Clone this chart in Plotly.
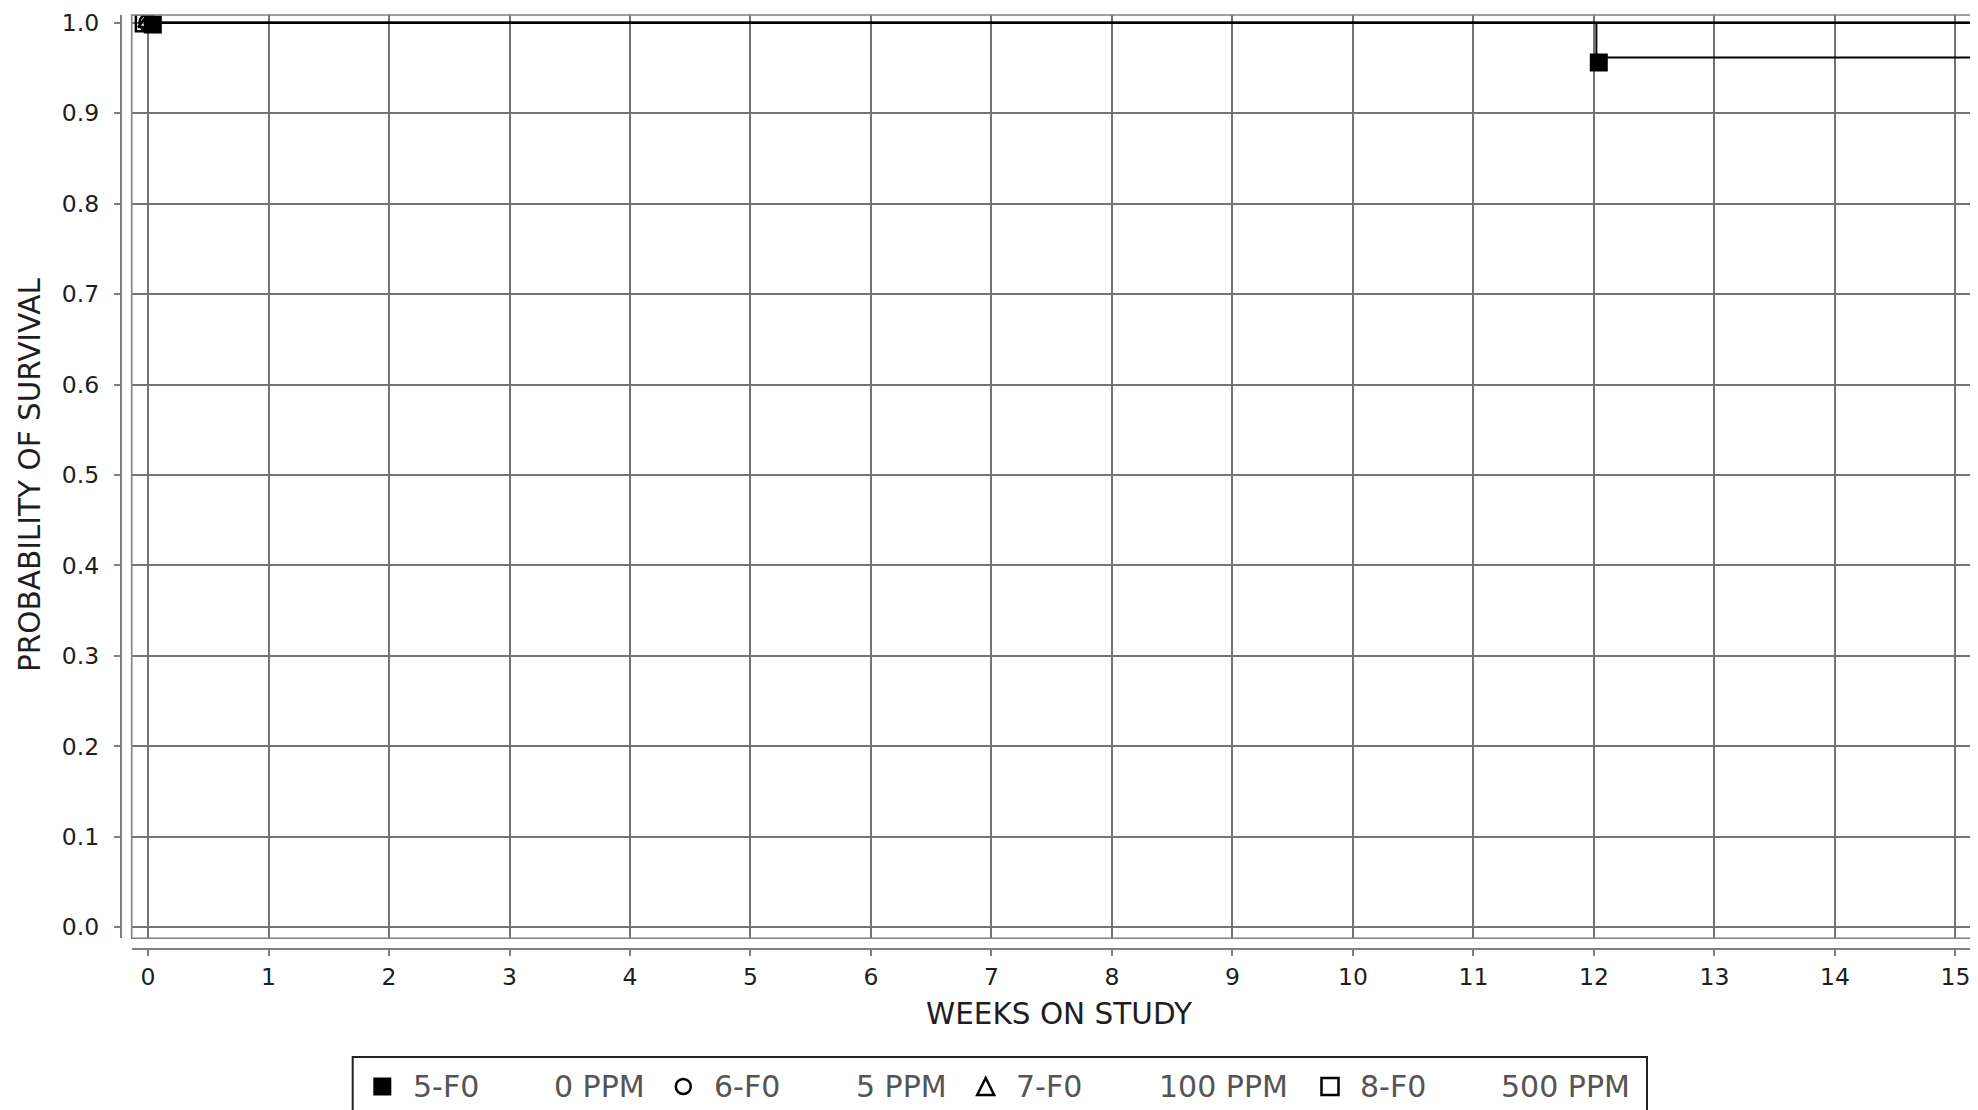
import plotly.graph_objects as go

W, H = 1978, 1110
OFF = 8  # default page margin of the html body

# ---------------- data ----------------
groups = ["5-F0", "6-F0", "7-F0", "8-F0"]
doses = ["0 PPM", "5 PPM", "100 PPM", "500 PPM"]
symbols = ["square", "circle-open", "triangle-up-open", "square-open"]

# Kaplan-Meier step curves (weeks on study, probability of survival)
weeks_5F0 = [0, 12.02, 15.3]
surv_5F0 = [1.0, 0.9615, 0.9615]
weeks_6F0 = [0, 15.3]
surv_6F0 = [1.0, 1.0]
weeks_7F0 = [0, 15.3]
surv_7F0 = [1.0, 1.0]
weeks_8F0 = [0, 15.3]
surv_8F0 = [1.0, 1.0]

# event markers
mark_weeks_5F0 = [0.04, 12.04]
mark_surv_5F0 = [0.998, 0.956]
mark_weeks_6F0 = [0]
mark_surv_6F0 = [1.0]
mark_weeks_7F0 = [0]
mark_surv_7F0 = [1.0]
mark_weeks_8F0 = [-0.03]
mark_surv_8F0 = [1.0]

x_ticks = list(range(0, 16))
x_tick_labels = [str(v) for v in x_ticks]
y_ticks = [0.0, 0.1, 0.2, 0.3, 0.4, 0.5, 0.6, 0.7, 0.8, 0.9, 1.0]
y_tick_labels = ["0.0", "0.1", "0.2", "0.3", "0.4", "0.5", "0.6", "0.7", "0.8", "0.9", "1.0"]

x_title = "WEEKS ON STUDY"
y_title = "PROBABILITY OF SURVIVAL"

curves = {
    "5-F0": (weeks_5F0, surv_5F0, mark_weeks_5F0, mark_surv_5F0),
    "6-F0": (weeks_6F0, surv_6F0, mark_weeks_6F0, mark_surv_6F0),
    "7-F0": (weeks_7F0, surv_7F0, mark_weeks_7F0, mark_surv_7F0),
    "8-F0": (weeks_8F0, surv_8F0, mark_weeks_8F0, mark_surv_8F0),
}

# ---------------- layout helpers ----------------
FW, FH = W - OFF, H - OFF


def px(x):
    return (x - OFF) / FW


def py(y):
    return 1 - (y - OFF) / FH


PLOT_L, PLOT_T, PLOT_B = 131.7, 15.0, 938.3
XAXIS_Y = 948.3
YAXIS_X = 121.7
X_RANGE = [-0.1353, 15.187]
Y_RANGE = [-0.0122, 1.0085]

FONT = "DejaVu Sans"
GRID = "#747474"
AXC = "#808080"

fig = go.Figure()

order = [3, 2, 1, 0]
for i in order:
    g = groups[i]
    wx, sy, mx, my = curves[g]
    fig.add_trace(go.Scatter(
        x=wx, y=sy, mode="lines", line=dict(color="black", width=2, shape="hv"),
        name=g + "      " + doses[i], showlegend=False, hoverinfo="skip",
        xaxis="x", yaxis="y"))
for i in order:
    g = groups[i]
    wx, sy, mx, my = curves[g]
    fig.add_trace(go.Scatter(
        x=mx, y=my, mode="markers",
        marker=dict(symbol=symbols[i], size=18 if i == 0 else 17, color="black",
                    line=dict(color="black", width=2.5 if i else 0)),
        name=g + "      " + doses[i], showlegend=False, hoverinfo="skip",
        xaxis="x", yaxis="y"))

# empty traces to materialise the offset axis subplots
fig.add_trace(go.Scatter(x=[None], y=[None], xaxis="x2", yaxis="y2", showlegend=False, hoverinfo="skip"))
fig.add_trace(go.Scatter(x=[None], y=[None], xaxis="x3", yaxis="y3", showlegend=False, hoverinfo="skip"))

tickfont = dict(family=FONT, size=23.5, color="#1e1e1e")

fig.update_layout(
    width=FW, height=FH, template="none",
    margin=dict(l=0, r=0, t=0, b=0),
    paper_bgcolor="white", plot_bgcolor="rgba(0,0,0,0)",
    showlegend=False,
    xaxis=dict(domain=[px(PLOT_L), 1], range=X_RANGE, anchor="y",
               tickvals=x_ticks, showticklabels=False, ticks="",
               showgrid=True, gridcolor=GRID, gridwidth=1.6,
               showline=False, zeroline=False, automargin=False),
    yaxis=dict(domain=[py(PLOT_B), py(PLOT_T)], range=Y_RANGE, anchor="x",
               tickvals=y_ticks, showticklabels=False, ticks="",
               showgrid=True, gridcolor=GRID, gridwidth=1.6,
               showline=False, zeroline=False, automargin=False),
    xaxis2=dict(domain=[px(PLOT_L), 1], range=X_RANGE, anchor="y2",
                tickvals=x_ticks, ticktext=x_tick_labels, tickfont=tickfont,
                ticks="outside", ticklen=6, tickwidth=1.5, tickcolor=AXC,
                ticklabelstandoff=1,
                showline=True, linecolor=AXC, linewidth=1.6,
                showgrid=False, zeroline=False, automargin=False),
    yaxis2=dict(domain=[py(XAXIS_Y), py(PLOT_T)], range=[0, 1], anchor="x2",
                visible=False, showgrid=False, zeroline=False),
    xaxis3=dict(domain=[px(YAXIS_X), 1], range=[0, 1], anchor="y3",
                visible=False, showgrid=False, zeroline=False),
    yaxis3=dict(domain=[py(PLOT_B), py(PLOT_T)], range=Y_RANGE, anchor="x3",
                tickvals=y_ticks, ticktext=y_tick_labels, tickfont=tickfont,
                ticks="outside", ticklen=6, tickwidth=1.5, tickcolor=AXC,
                ticklabelstandoff=10,
                showline=True, linecolor=AXC, linewidth=1.6,
                showgrid=False, zeroline=False, automargin=False),
)

shapes = []
# plot border
shapes.append(dict(type="rect", xref="paper", yref="paper",
                   x0=px(PLOT_L), x1=1.01, y0=py(PLOT_B), y1=py(PLOT_T),
                   line=dict(color=AXC, width=1.6), layer="above"))
# blue dashed zero lines
shapes.append(dict(type="line", xref="x", yref="paper", x0=0, x1=0,
                   y0=py(PLOT_B), y1=py(PLOT_T),
                   line=dict(color="#3535d0", width=1.5, dash="4px,3px"), layer="between"))
shapes.append(dict(type="line", xref="paper", yref="y", x0=px(PLOT_L), x1=1, y0=0, y1=0,
                   line=dict(color="#3535d0", width=1.5, dash="4px,3px"), layer="between"))

# legend box
LEG_L, LEG_R, LEG_T, LEG_B = 352.7, 1647.0, 1057.0, 1125.0
shapes.append(dict(type="rect", xref="paper", yref="paper",
                   x0=px(LEG_L), x1=px(LEG_R), y0=py(LEG_B), y1=py(LEG_T),
                   line=dict(color="#222222", width=2), fillcolor="white", layer="above"))

sym_x = [382.3, 683.3, 985.7, 1330.0]
name_x = [411.7, 713.3, 1015.0, 1358.5]
dose_x = [553.3, 855.0, 1158.3, 1500.0]
LEG_CY = 1086.5
s = 9
# filled square
shapes.append(dict(type="rect", xref="paper", yref="paper",
                   x0=px(sym_x[0] - s), x1=px(sym_x[0] + s), y0=py(LEG_CY + s), y1=py(LEG_CY - s),
                   line=dict(width=0), fillcolor="black", layer="above"))
# open circle
r = 7.5
shapes.append(dict(type="circle", xref="paper", yref="paper",
                   x0=px(sym_x[1] - r), x1=px(sym_x[1] + r), y0=py(LEG_CY + r), y1=py(LEG_CY - r),
                   line=dict(color="black", width=2.5), layer="above"))
# open triangle
tx = sym_x[2]
path = "M {} {} L {} {} L {} {} Z".format(px(tx - 8.5), py(LEG_CY + 8.5), px(tx + 8.5), py(LEG_CY + 8.5),
                                          px(tx), py(LEG_CY - 8.5))
shapes.append(dict(type="path", xref="paper", yref="paper", path=path,
                   line=dict(color="black", width=2.5), layer="above"))
# open square
s2 = 8.5
shapes.append(dict(type="rect", xref="paper", yref="paper",
                   x0=px(sym_x[3] - s2), x1=px(sym_x[3] + s2), y0=py(LEG_CY + s2), y1=py(LEG_CY - s2),
                   line=dict(color="black", width=2.5), layer="above"))

annotations = []
legfont = dict(family=FONT, size=30, color="#555555")
for i in range(4):
    annotations.append(dict(xref="paper", yref="paper", x=px(name_x[i]), y=py(LEG_CY),
                            xanchor="left", yanchor="middle", text=groups[i],
                            showarrow=False, font=legfont, borderpad=0))
    annotations.append(dict(xref="paper", yref="paper", x=px(dose_x[i]), y=py(LEG_CY),
                            xanchor="left", yanchor="middle", text=doses[i],
                            showarrow=False, font=legfont, borderpad=0))

titlefont = dict(family=FONT, size=29.5, color="#1e1e1e")
annotations.append(dict(xref="paper", yref="paper", x=px(1059), y=py(1014),
                        xanchor="center", yanchor="middle", text=x_title,
                        showarrow=False, font=titlefont))
annotations.append(dict(xref="paper", yref="paper", x=px(30), y=py(475),
                        xanchor="center", yanchor="middle", text=y_title, textangle=-90,
                        showarrow=False, font=titlefont))

fig.update_layout(shapes=shapes, annotations=annotations)

fig.write_html("out.html")
